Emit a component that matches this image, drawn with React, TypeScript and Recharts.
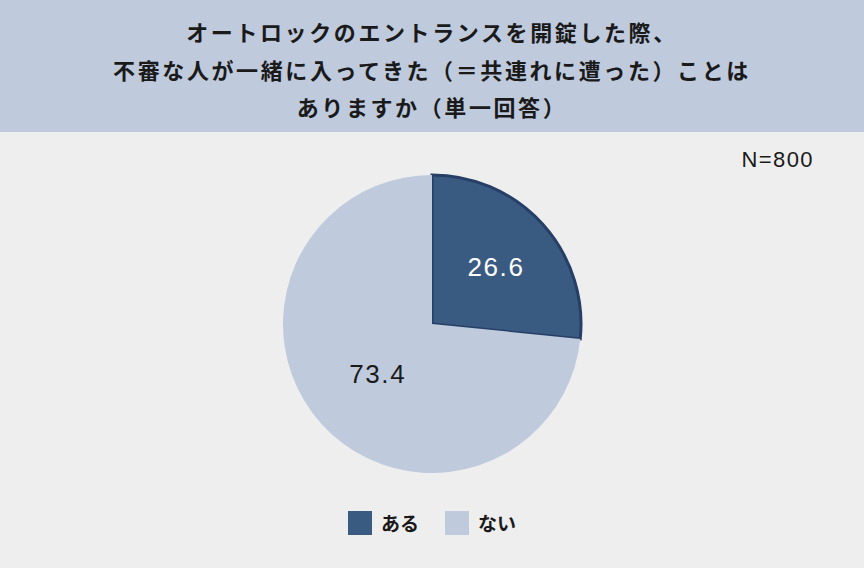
import { Cell, Pie, PieChart } from 'recharts';

const answers = ['ある', 'ない'];
const shares = [26.6, 73.4];
const colors = ['#3a5b81', '#bfcadd'];
const strokes = ['#273f66', 'none'];
const titleLines = [
  'オートロックのエントランスを開錠した際、',
  '不審な人が一緒に入ってきた（＝共連れに遭った）ことは',
  'ありますか（単一回答）',
];
const sampleNote = 'N=800';

const data = answers.map((name, i) => ({ name, value: shares[i] }));

const RADIAN = Math.PI / 180;
const fontStack = '"Liberation Sans", "Noto Sans CJK JP", sans-serif';

function renderLabel(props: any) {
  const { cx, cy, midAngle, outerRadius, index, value } = props;
  const r = outerRadius * (index === 0 ? 0.57 : 0.5);
  const x = cx + r * Math.cos(-midAngle * RADIAN);
  const y = cy + r * Math.sin(-midAngle * RADIAN);
  return (
    <text
      x={x + 1}
      y={y}
      textAnchor="middle"
      dominantBaseline="central"
      fill={index === 0 ? '#ffffff' : '#1a1a1a'}
      fontSize={26}
      letterSpacing={1.6}
      fontFamily={fontStack}
    >
      {value.toFixed(1)}
    </text>
  );
}

export default function App() {
  return (
    <div style={{ position: 'relative', width: 864, height: 568, background: '#eeeeee', overflow: 'hidden' }}>
      <style>{'body{margin:0}'}</style>
      <div
        style={{
          position: 'absolute',
          left: 0,
          top: 0,
          width: 864,
          height: 132,
          paddingTop: 7,
          boxSizing: 'border-box',
          background: '#bfcadd',
          display: 'flex',
          flexDirection: 'column',
          alignItems: 'center',
          justifyContent: 'center',
          fontFamily: '"Noto Sans CJK JP", sans-serif',
          fontWeight: 700,
          fontSize: 22,
          letterSpacing: 2.6,
          lineHeight: '37.5px',
          color: '#1a1a1a',
        }}
      >
        {titleLines.map((line) => (
          <div key={line}>{line}</div>
        ))}
      </div>
      <div
        style={{
          position: 'absolute',
          right: 50,
          top: 147,
          fontSize: 22,
          letterSpacing: 1.4,
          fontFamily: fontStack,
          color: '#1a1a1a',
        }}
      >
        {sampleNote}
      </div>
      <div style={{ position: 'absolute', left: 0, top: 0 }}>
        <PieChart width={864} height={568} margin={{ top: 0, right: 0, bottom: 0, left: 0 }}>
          <Pie
            data={data}
            dataKey="value"
            nameKey="name"
            cx={432}
            cy={324}
            outerRadius={149}
            startAngle={90}
            endAngle={-270}
            label={renderLabel}
            labelLine={false}
            isAnimationActive={false}
          >
            {data.map((entry, i) => (
              <Cell key={entry.name} fill={colors[i]} stroke={strokes[i]} strokeWidth={i === 0 ? 3 : 0} />
            ))}
          </Pie>
        </PieChart>
      </div>
      <div
        style={{
          position: 'absolute',
          left: 0,
          top: 509,
          width: 864,
          display: 'flex',
          justifyContent: 'center',
          gap: 26,
        }}
      >
        {data.map((entry, i) => (
          <span key={entry.name} style={{ display: 'flex', alignItems: 'center', gap: 9 }}>
            <span style={{ width: 24, height: 24, background: colors[i], display: 'inline-block' }} />
            <span
              style={{
                fontSize: 19,
                fontWeight: 700,
                color: '#1a1a1a',
                fontFamily: '"Noto Sans CJK JP", sans-serif',
              }}
            >
              {entry.name}
            </span>
          </span>
        ))}
      </div>
    </div>
  );
}
